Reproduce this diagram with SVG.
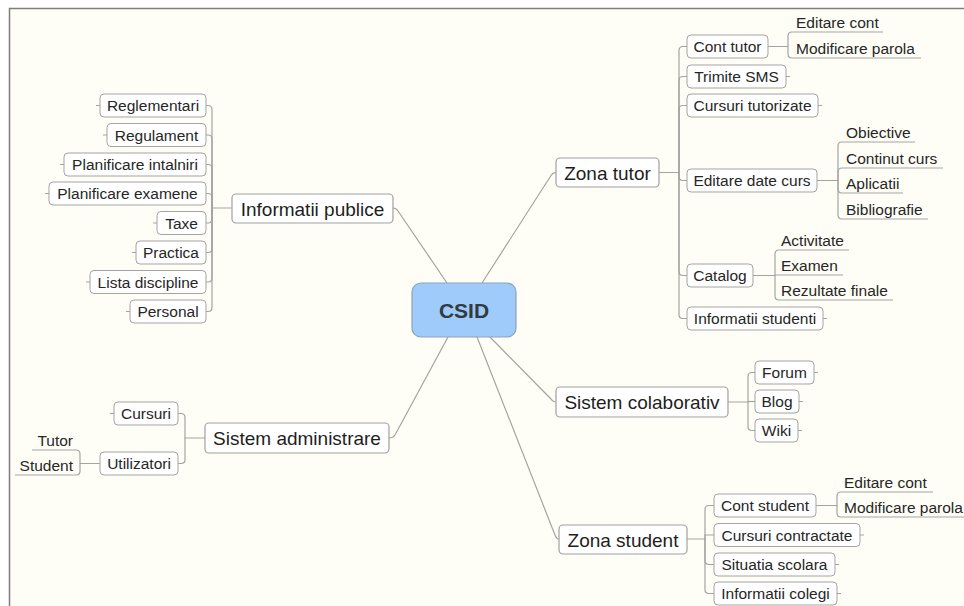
<svg xmlns="http://www.w3.org/2000/svg" width="964" height="606" viewBox="0 0 964 606">
  <style>
    .bg { fill: #fffef6; }
    .frame { fill: none; stroke: #7d7d7d; stroke-width: 1.5; }
    .box { fill: #ffffff; stroke: #a3a3a3; stroke-width: 1; }
    .main { fill: #ffffff; stroke: #a0a0a0; stroke-width: 1.2; }
    .root { fill: #9ecbf9; stroke: #8aa3bb; stroke-width: 1.2; }
    .t { font-family: "Liberation Sans", Arial, sans-serif; font-size: 15.5px; fill: #262626; text-anchor: middle; }
    .tl { font-family: "Liberation Sans", Arial, sans-serif; font-size: 15.5px; fill: #262626; }
    .tr { font-family: "Liberation Sans", Arial, sans-serif; font-size: 15.5px; fill: #262626; text-anchor: end; }
    .tm { font-family: "Liberation Sans", Arial, sans-serif; font-size: 19px; fill: #1e1e1e; text-anchor: middle; }
    .troot { font-family: "Liberation Sans", Arial, sans-serif; font-size: 21px; font-weight: bold; fill: #333a42; text-anchor: middle; }
    .ln { fill: none; stroke: #a3a3a3; stroke-width: 1.2; }
  </style>

  <rect x="0" y="0" width="964" height="606" fill="#ffffff"/>
  <rect class="bg" x="9" y="8" width="955" height="598"/>
  <path class="frame" d="M9.5,606 V8.5 H964"/>

  <!-- connectors -->
  <g id="connectors">
    <!-- root to main topics -->
    <path class="ln" d="M447,283 L398,211 Q396,208 393,208"/>
    <path class="ln" d="M482,283 L551,175.5 Q553,172.5 556,172.5"/>
    <path class="ln" d="M448,337 L395,435 Q393,438 389,438"/>
    <path class="ln" d="M490,337 L551,399 Q553,402 556,402"/>
    <path class="ln" d="M477,337 L555,535 Q556.5,539 559,539"/>

    <!-- Informatii publice branch -->
    <path class="ln" d="M232,208 H212 V109.5 Q212,105.5 208,105.5 H206"/>
    <path class="ln" d="M212,208 V139 Q212,135 208,135 H206"/>
    <path class="ln" d="M212,208 V168.5 Q212,164.5 208,164.5 H206"/>
    <path class="ln" d="M212,208 V197.5 Q212,193.5 208,193.5 H206"/>
    <path class="ln" d="M212,208 V219 Q212,223 208,223 H206"/>
    <path class="ln" d="M212,208 V248.5 Q212,252.5 208,252.5 H206"/>
    <path class="ln" d="M212,208 V278 Q212,282 208,282 H206"/>
    <path class="ln" d="M212,208 V307.5 Q212,311.5 208,311.5 H206"/>

    <!-- Zona tutor branch -->
    <path class="ln" d="M659,172.5 H679 V50.5 Q679,46.5 683,46.5 H687"/>
    <path class="ln" d="M679,172.5 V80.5 Q679,76.5 683,76.5 H687"/>
    <path class="ln" d="M679,172.5 V109.5 Q679,105.5 683,105.5 H687"/>
    <path class="ln" d="M679,172.5 V176.5 Q679,180.5 683,180.5 H687"/>
    <path class="ln" d="M679,172.5 V271.5 Q679,275.5 683,275.5 H687"/>
    <path class="ln" d="M679,172.5 V314.5 Q679,318.5 683,318.5 H687"/>
    <path class="ln" d="M768,46.5 H788 V36 Q788,32 792,32 H883"/>
    <path class="ln" d="M788,46.5 V54 Q788,58 792,58 H921"/>
    <path class="ln" d="M817,180.5 H838 V146 Q838,142 842,142 H915"/>
    <path class="ln" d="M838,180.5 V172 Q838,168 842,168 H943"/>
    <path class="ln" d="M838,180.5 V189 Q838,193 842,193 H903"/>
    <path class="ln" d="M838,180.5 V215 Q838,219 842,219 H928"/>
    <path class="ln" d="M753,275.5 H775 V254 Q775,250 779,250 H849"/>
    <path class="ln" d="M775,275 H843"/>
    <path class="ln" d="M775,275.5 V296 Q775,300 779,300 H893"/>

    <!-- Sistem administrare branch -->
    <path class="ln" d="M205,438 H185 V417.5 Q185,413.5 181,413.5 H178"/>
    <path class="ln" d="M185,438 V459.5 Q185,463.5 181,463.5 H178"/>
    <path class="ln" d="M100,463.5 H80 V454 Q80,450 76,450 H32"/>
    <path class="ln" d="M80,463.5 V471 Q80,475 76,475 H15"/>

    <!-- Sistem colaborativ branch -->
    <path class="ln" d="M728,402 H748 V376.5 Q748,372.5 752,372.5 H755"/>
    <path class="ln" d="M748,401.5 H755"/>
    <path class="ln" d="M748,402 V426.5 Q748,430.5 752,430.5 H755"/>

    <!-- Zona student branch -->
    <path class="ln" d="M687,539 H705 V509.5 Q705,505.5 709,505.5 H714"/>
    <path class="ln" d="M705,539 V535 H714"/>
    <path class="ln" d="M705,539 V560.5 Q705,564.5 709,564.5 H714"/>
    <path class="ln" d="M705,539 V589.5 Q705,593.5 709,593.5 H714"/>
    <path class="ln" d="M816,505.5 H837 V496 Q837,492 841,492 H933"/>
    <path class="ln" d="M837,505.5 V513 Q837,517 841,517 H970"/>

    <!-- leaf end ticks -->
    <path class="ln" d="M100,105.5 H96 M107,135 H103 M64,164.5 H60 M49,193.5 H45 M157,223 H153 M136,252.5 H132 M90,282 H86 M130,311.5 H126"/>
    <path class="ln" d="M786,76.5 H790 M818,105.5 H822 M823,318.5 H827"/>
    <path class="ln" d="M114,413.5 H110"/>
    <path class="ln" d="M814,372.5 H818 M799,401.5 H803 M798,430.5 H802"/>
    <path class="ln" d="M860,535 H864 M835,564.5 H839 M837,593.5 H841"/>
  </g>

  <!-- central topic -->
  <g id="csid">
    <rect class="root" x="412" y="283" width="104" height="54" rx="9"/>
    <text class="troot" x="464" y="317.5">CSID</text>
  </g>

  <!-- Informatii publice -->
  <g id="informatii-publice">
    <rect class="main" x="232" y="194" width="161" height="29" rx="4"/>
    <text class="tm" x="312.5" y="215.5">Informatii publice</text>
  </g>
  <g id="reglementari"><rect class="box" x="100" y="94" width="106" height="23" rx="4"/><text class="t" x="153" y="111">Reglementari</text></g>
  <g id="regulament"><rect class="box" x="107" y="123.5" width="99" height="23" rx="4"/><text class="t" x="156.5" y="140.5">Regulament</text></g>
  <g id="planificare-intalniri"><rect class="box" x="64" y="153" width="142" height="23" rx="4"/><text class="t" x="135" y="170">Planificare intalniri</text></g>
  <g id="planificare-examene"><rect class="box" x="49" y="182" width="157" height="23" rx="4"/><text class="t" x="127.5" y="199">Planificare examene</text></g>
  <g id="taxe"><rect class="box" x="157" y="211.5" width="49" height="23" rx="4"/><text class="t" x="181.5" y="228.5">Taxe</text></g>
  <g id="practica"><rect class="box" x="136" y="241" width="70" height="23" rx="4"/><text class="t" x="171" y="258">Practica</text></g>
  <g id="lista-discipline"><rect class="box" x="90" y="270.5" width="116" height="23" rx="4"/><text class="t" x="148" y="287.5">Lista discipline</text></g>
  <g id="personal"><rect class="box" x="130" y="300" width="76" height="23" rx="4"/><text class="t" x="168" y="317">Personal</text></g>

  <!-- Zona tutor -->
  <g id="zona-tutor">
    <rect class="main" x="556" y="158" width="103" height="29" rx="4"/>
    <text class="tm" x="607.5" y="179.5">Zona tutor</text>
  </g>
  <g id="cont-tutor"><rect class="box" x="687" y="35" width="81" height="23" rx="4"/><text class="t" x="727.5" y="52">Cont tutor</text></g>
  <g id="trimite-sms"><rect class="box" x="687" y="65" width="99" height="23" rx="4"/><text class="t" x="736.5" y="82">Trimite SMS</text></g>
  <g id="cursuri-tutorizate"><rect class="box" x="687" y="94" width="131" height="23" rx="4"/><text class="t" x="752.5" y="111">Cursuri tutorizate</text></g>
  <g id="editare-date-curs"><rect class="box" x="687" y="169" width="130" height="23" rx="4"/><text class="t" x="752" y="186">Editare date curs</text></g>
  <g id="catalog"><rect class="box" x="687" y="264" width="66" height="23" rx="4"/><text class="t" x="720" y="281">Catalog</text></g>
  <g id="informatii-studenti"><rect class="box" x="687" y="307" width="136" height="23" rx="4"/><text class="t" x="755" y="324">Informatii studenti</text></g>
  <g id="tutor-editare-cont"><text class="tl" x="796" y="28">Editare cont</text></g>
  <g id="tutor-modificare-parola"><text class="tl" x="796" y="54">Modificare parola</text></g>
  <g id="obiective"><text class="tl" x="846" y="138">Obiective</text></g>
  <g id="continut-curs"><text class="tl" x="846" y="164">Continut curs</text></g>
  <g id="aplicatii"><text class="tl" x="846" y="189">Aplicatii</text></g>
  <g id="bibliografie"><text class="tl" x="846" y="215">Bibliografie</text></g>
  <g id="activitate"><text class="tl" x="781" y="246">Activitate</text></g>
  <g id="examen"><text class="tl" x="781" y="271">Examen</text></g>
  <g id="rezultate-finale"><text class="tl" x="781" y="296">Rezultate finale</text></g>

  <!-- Sistem administrare -->
  <g id="sistem-administrare">
    <rect class="main" x="205" y="423" width="184" height="30" rx="4"/>
    <text class="tm" x="297" y="445">Sistem administrare</text>
  </g>
  <g id="cursuri"><rect class="box" x="114" y="402" width="64" height="23" rx="4"/><text class="t" x="146" y="419">Cursuri</text></g>
  <g id="utilizatori"><rect class="box" x="100" y="452" width="78" height="23" rx="4"/><text class="t" x="139" y="469">Utilizatori</text></g>
  <g id="tutor"><text class="tr" x="73" y="446">Tutor</text></g>
  <g id="student"><text class="tr" x="73" y="471">Student</text></g>

  <!-- Sistem colaborativ -->
  <g id="sistem-colaborativ">
    <rect class="main" x="556" y="387" width="172" height="30" rx="4"/>
    <text class="tm" x="642" y="409">Sistem colaborativ</text>
  </g>
  <g id="forum"><rect class="box" x="755" y="361" width="59" height="23" rx="4"/><text class="t" x="784.5" y="378">Forum</text></g>
  <g id="blog"><rect class="box" x="755" y="390" width="44" height="23" rx="4"/><text class="t" x="777" y="407">Blog</text></g>
  <g id="wiki"><rect class="box" x="755" y="419" width="43" height="23" rx="4"/><text class="t" x="776.5" y="436">Wiki</text></g>

  <!-- Zona student -->
  <g id="zona-student">
    <rect class="main" x="559" y="525" width="128" height="29" rx="4"/>
    <text class="tm" x="623" y="546.5">Zona student</text>
  </g>
  <g id="cont-student"><rect class="box" x="714" y="494" width="102" height="23" rx="4"/><text class="t" x="765" y="511">Cont student</text></g>
  <g id="cursuri-contractate"><rect class="box" x="714" y="523.5" width="146" height="23" rx="4"/><text class="t" x="787" y="540.5">Cursuri contractate</text></g>
  <g id="situatia-scolara"><rect class="box" x="714" y="553" width="121" height="23" rx="4"/><text class="t" x="774.5" y="570">Situatia scolara</text></g>
  <g id="informatii-colegi"><rect class="box" x="714" y="582" width="123" height="23" rx="4"/><text class="t" x="775.5" y="599">Informatii colegi</text></g>
  <g id="student-editare-cont"><text class="tl" x="844" y="488">Editare cont</text></g>
  <g id="student-modificare-parola"><text class="tl" x="844" y="513">Modificare parola</text></g>
</svg>
